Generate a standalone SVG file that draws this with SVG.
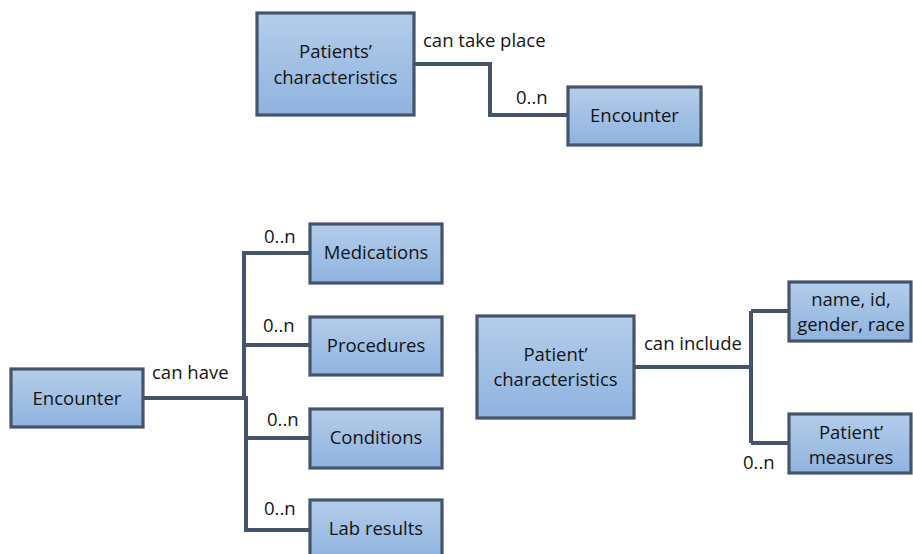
<svg xmlns="http://www.w3.org/2000/svg" width="913" height="554" viewBox="0 0 913 554">
  <defs>
    <linearGradient id="boxFill" x1="0" y1="0" x2="0" y2="1">
      <stop offset="0" stop-color="#b4cdea"/>
      <stop offset="1" stop-color="#8fb3df"/>
    </linearGradient>
    <style>
      .box { fill: url(#boxFill); stroke: #45546a; stroke-width: 3.2; }
      .wire { fill: none; stroke: #45546a; stroke-width: 4; stroke-linejoin: miter; }
      text { font-family: "Open Sans", "Liberation Sans", sans-serif; font-size: 18.5px; fill: #141414; }
      .c { text-anchor: middle; }
    </style>
  </defs>

  <!-- connectors -->
  <g id="connectors">
    <path class="wire" d="M414,64 H490 V115 H568"/>
    <path class="wire" d="M143,398 H244 V253 H310 M244,345 H310"/>
    <path class="wire" d="M246,396 V530 H310 M246,438 H310"/>
    <path class="wire" d="M634,367 H751 M751,311 V443 M751,311 H789 M751,443 H789"/>
  </g>

  <!-- connector labels -->
  <g id="labels">
    <text x="423" y="47">can take place</text>
    <text x="516" y="104">0..n</text>
    <text x="152" y="379">can have</text>
    <text x="264" y="243">0..n</text>
    <text x="263" y="332">0..n</text>
    <text x="267" y="426">0..n</text>
    <text x="264" y="515">0..n</text>
    <text x="644" y="350">can include</text>
    <text x="743" y="469">0..n</text>
  </g>

  <g id="patients-characteristics">
    <rect class="box" x="257" y="13" width="157" height="102"/>
    <text class="c" x="335.5" y="58">Patients’</text>
    <text class="c" x="335.5" y="84">characteristics</text>
  </g>

  <g id="encounter-top">
    <rect class="box" x="568" y="87" width="133" height="58"/>
    <text class="c" x="634.5" y="122">Encounter</text>
  </g>

  <g id="encounter">
    <rect class="box" x="11" y="369" width="132" height="58"/>
    <text class="c" x="77" y="405">Encounter</text>
  </g>

  <g id="medications">
    <rect class="box" x="310" y="224" width="132" height="59"/>
    <text class="c" x="376" y="259">Medications</text>
  </g>

  <g id="procedures">
    <rect class="box" x="310" y="317" width="132" height="58"/>
    <text class="c" x="376" y="352">Procedures</text>
  </g>

  <g id="conditions">
    <rect class="box" x="310" y="409" width="132" height="59"/>
    <text class="c" x="376" y="444">Conditions</text>
  </g>

  <g id="lab-results">
    <rect class="box" x="310" y="500" width="132" height="58"/>
    <text class="c" x="376" y="535">Lab results</text>
  </g>

  <g id="patient-characteristics">
    <rect class="box" x="477" y="316" width="157" height="102"/>
    <text class="c" x="555.5" y="361">Patient’</text>
    <text class="c" x="555.5" y="386">characteristics</text>
  </g>

  <g id="name-id-gender-race">
    <rect class="box" x="789" y="282" width="122" height="59"/>
    <text class="c" x="851" y="306">name, id,</text>
    <text class="c" x="851" y="331">gender, race</text>
  </g>

  <g id="patient-measures">
    <rect class="box" x="789" y="414" width="122" height="59"/>
    <text class="c" x="851" y="439">Patient’</text>
    <text class="c" x="851" y="464">measures</text>
  </g>
</svg>
